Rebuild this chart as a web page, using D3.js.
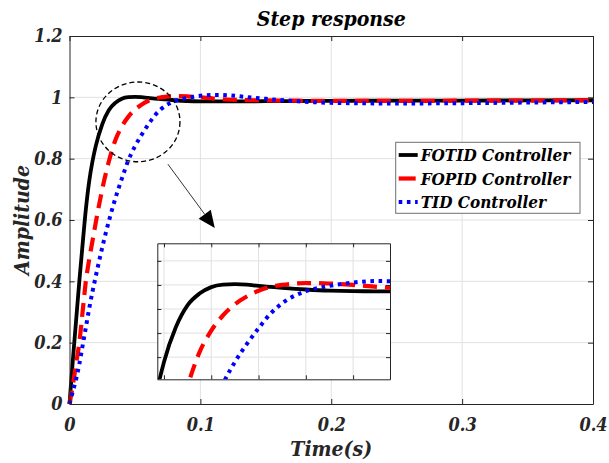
<!DOCTYPE html>
<html>
<head>
<meta charset="utf-8">
<script src="https://cdnjs.cloudflare.com/ajax/libs/d3/7.8.5/d3.min.js"></script>
<style>
  body { margin: 0; background: #fff; }
</style>
</head>
<body>
<div id="container"></div>
<script>
// time samples (s), shared by all three responses
var time = [0, 0.0025, 0.005, 0.0075, 0.01, 0.0125, 0.015, 0.0175, 0.02, 0.025, 0.03, 0.035, 0.04, 0.045,
            0.05, 0.055, 0.06, 0.065, 0.07, 0.08, 0.09, 0.1, 0.11, 0.12, 0.135, 0.15, 0.175, 0.2, 0.25, 0.3, 0.35, 0.4];

// step responses
var fotid = [0, 0.14, 0.27, 0.40, 0.52, 0.635, 0.725, 0.79, 0.84, 0.912, 0.958, 0.982, 0.9955, 1.0005,
             1.0015, 1.0005, 0.998, 0.996, 0.994, 0.9905, 0.988, 0.987, 0.9868, 0.9867, 0.987, 0.9875, 0.988, 0.9885, 0.989, 0.9895, 0.990, 0.9905];
var fopid = [0, 0.06, 0.13, 0.20, 0.30, 0.40, 0.47, 0.53, 0.59, 0.70, 0.79, 0.86, 0.905, 0.937,
             0.96, 0.976, 0.988, 0.996, 1.0, 1.004, 1.003, 1.0, 0.996, 0.993, 0.991, 0.990, 0.989, 0.9885, 0.9885, 0.989, 0.9895, 0.990];
var tid   = [0, 0.04, 0.08, 0.13, 0.19, 0.25, 0.31, 0.365, 0.415, 0.51, 0.595, 0.67, 0.735, 0.795,
             0.84, 0.877, 0.91, 0.94, 0.962, 0.987, 0.998, 1.005, 1.008, 1.007, 1.001, 0.995, 0.987, 0.982, 0.980, 0.981, 0.983, 0.985];

var seriesNames = ["FOTID Controller", "FOPID Controller", "TID Controller"];

// tick labels
var xTicks = [0, 0.1, 0.2, 0.3, 0.4];
var xTickLabels = ["0", "0.1", "0.2", "0.3", "0.4"];
var yTicks = [0, 0.2, 0.4, 0.6, 0.8, 1, 1.2];
var yTickLabels = ["0", "0.2", "0.4", "0.6", "0.8", "1", "1.2"];

// zoomed window shown in the inset
var insetXTicks = [0.02, 0.04, 0.06, 0.08, 0.1];
var insetYTicks = [0.85, 0.9, 0.95, 1.0, 1.05];

var FONT = "'DejaVu Serif Condensed', 'DejaVu Serif', serif";

class StepChart {

    constructor(opts)
    {
        this.element = opts.element;
        this.width = 609;
        this.height = 463;
        this.box = {left: 69.5, right: 593, top: 36, bottom: 404};

        this.styles = [
            {color: "#000000", width: 3.8, dash: null},
            {color: "#ff0000", width: 4.2, dash: "14,8"},
            {color: "#0000ff", width: 4, dash: "3.6,4.6"}
        ];
        this.data = [fotid, fopid, tid].map(function(vals){
            return vals.map(function(v, i){ return {t: time[i], v: v}; });
        });

        this.svg = d3.select(this.element).append("svg")
            .attr("width", this.width)
            .attr("height", this.height);

        this.drawMain();
        this.drawCircle();
        this.drawInset();
        this.drawLegend();

        // serif, bold italic everywhere (d3 axes set their own family)
        this.svg.selectAll("text").style("font-family", FONT)
            .style("font-weight", "bold").style("font-style", "italic");
    }

    drawMain(){
        var b = this.box, svg = this.svg;
        var x = this.x = d3.scaleLinear().domain([0, 0.4]).range([b.left, b.right]);
        var y = this.y = d3.scaleLinear().domain([0, 1.2]).range([b.bottom, b.top]);

        // grid
        var grid = svg.append("g");
        grid.selectAll(".gx").data(xTicks.slice(1, -1)).enter().append("line")
            .attr("x1", d => x(d)).attr("x2", d => x(d))
            .attr("y1", b.top).attr("y2", b.bottom)
            .attr("stroke", "#e1e1e1").attr("stroke-width", 1);
        grid.selectAll(".gy").data(yTicks.slice(1, -1)).enter().append("line")
            .attr("y1", d => y(d)).attr("y2", d => y(d))
            .attr("x1", b.left).attr("x2", b.right)
            .attr("stroke", "#e1e1e1").attr("stroke-width", 1);

        // curves
        var line = d3.line().x(d => x(d.t)).y(d => y(d.v)).curve(d3.curveMonotoneX);
        var self = this;
        this.data.forEach(function(d, i){
            var s = self.styles[i];
            svg.append("path").datum(d)
                .attr("d", line)
                .attr("fill", "none")
                .attr("stroke", s.color)
                .attr("stroke-width", s.width)
                .attr("stroke-dasharray", s.dash);
        });

        // axes with inward ticks on all four sides
        var fx = i => xTickLabels[xTicks.indexOf(i)];
        var fy = i => yTickLabels[yTicks.indexOf(i)];
        var bottom = svg.append("g").attr("transform", "translate(0," + b.bottom + ")")
            .call(d3.axisBottom(x).tickValues(xTicks).tickSizeInner(-5).tickSizeOuter(0).tickFormat(fx));
        bottom.selectAll("text").attr("y", 11).attr("dy", "0.9em");
        var top = svg.append("g").attr("transform", "translate(0," + b.top + ")")
            .call(d3.axisTop(x).tickValues(xTicks).tickSizeInner(-5).tickSizeOuter(0).tickFormat(""));
        var left = svg.append("g").attr("transform", "translate(" + b.left + ",0)")
            .call(d3.axisLeft(y).tickValues(yTicks).tickSizeInner(-5).tickSizeOuter(0).tickFormat(fy));
        left.selectAll("text").attr("x", -7);
        var right = svg.append("g").attr("transform", "translate(" + b.right + ",0)")
            .call(d3.axisRight(y).tickValues(yTicks).tickSizeInner(-5).tickSizeOuter(0).tickFormat(""));
        [bottom, top, left, right].forEach(function(g){
            g.select(".domain").attr("stroke", "#262626");
            g.selectAll(".tick line").attr("stroke", "#262626");
            g.selectAll("text").style("font-size", "18px").attr("fill", "#262626");
        });

        // title and labels
        svg.append("text").attr("x", (b.left + b.right) / 2).attr("y", 26)
            .attr("text-anchor", "middle").style("font-size", "21px").attr("fill", "#000").text("Step response");
        svg.append("text").attr("x", (b.left + b.right) / 2).attr("y", 456)
            .attr("text-anchor", "middle").style("font-size", "21px").attr("fill", "#262626").text("Time(s)");
        svg.append("text").attr("transform", "translate(29," + ((b.top + b.bottom) / 2) + ") rotate(-90)")
            .attr("text-anchor", "middle").style("font-size", "21px").attr("fill", "#262626").text("Amplitude");
    }

    drawCircle(){
        var x = this.x, y = this.y, svg = this.svg;
        // dashed ellipse around the overshoot region
        svg.append("ellipse")
            .attr("cx", x(0.0523)).attr("cy", y(0.92))
            .attr("rx", x(0.0321) - x(0)).attr("ry", y(0) - y(0.13))
            .attr("fill", "none").attr("stroke", "#000").attr("stroke-width", 1.3)
            .attr("stroke-dasharray", "5,3");

        // arrow pointing to the inset
        var x1 = x(0.0752), y1 = y(0.782), x2 = x(0.111), y2 = y(0.574);
        var ang = Math.atan2(y2 - y1, x2 - x1), len = 17, hw = 7.5;
        var bx = x2 - len * Math.cos(ang), by = y2 - len * Math.sin(ang);
        svg.append("line").attr("x1", x1).attr("y1", y1).attr("x2", bx).attr("y2", by)
            .attr("stroke", "#000").attr("stroke-width", 0.8);
        svg.append("path")
            .attr("d", "M" + x2 + "," + y2 +
                       "L" + (bx + hw * Math.sin(ang)) + "," + (by - hw * Math.cos(ang)) +
                       "L" + (bx - hw * Math.sin(ang)) + "," + (by + hw * Math.cos(ang)) + "Z")
            .attr("fill", "#000");
    }

    drawInset(){
        var svg = this.svg;
        var l = 157.3, r = 390, t = 243.3, bt = 379.3;
        var ix = d3.scaleLinear().domain([0.01717, 0.1156]).range([l, r]);
        var iy = d3.scaleLinear().domain([0.804, 1.0865]).range([bt, t]);
        var g = svg.append("g");

        g.append("rect").attr("x", l).attr("y", t).attr("width", r - l).attr("height", bt - t).attr("fill", "#fff");

        g.selectAll(".igx").data(insetXTicks).enter().append("line")
            .attr("x1", d => ix(d)).attr("x2", d => ix(d)).attr("y1", t).attr("y2", bt)
            .attr("stroke", "#e1e1e1");
        g.selectAll(".igy").data(insetYTicks).enter().append("line")
            .attr("y1", d => iy(d)).attr("y2", d => iy(d)).attr("x1", l).attr("x2", r)
            .attr("stroke", "#e1e1e1");

        svg.append("clipPath").attr("id", "insetclip").append("rect")
            .attr("x", l).attr("y", t).attr("width", r - l).attr("height", bt - t);

        var line = d3.line().x(d => ix(d.t)).y(d => iy(d.v)).curve(d3.curveMonotoneX);
        var self = this;
        var curves = g.append("g").attr("clip-path", "url(#insetclip)");
        this.data.forEach(function(d, i){
            var s = self.styles[i];
            curves.append("path").datum(d)
                .attr("d", line)
                .attr("fill", "none")
                .attr("stroke", s.color)
                .attr("stroke-width", s.width)
                .attr("stroke-dasharray", s.dash);
        });

        var axes = [
            [d3.axisBottom(ix).tickValues(insetXTicks), "translate(0," + bt + ")"],
            [d3.axisTop(ix).tickValues(insetXTicks), "translate(0," + t + ")"],
            [d3.axisLeft(iy).tickValues(insetYTicks), "translate(" + l + ",0)"],
            [d3.axisRight(iy).tickValues(insetYTicks), "translate(" + r + ",0)"]
        ];
        axes.forEach(function(a){
            var ag = g.append("g").attr("transform", a[1])
                .call(a[0].tickSizeInner(-4).tickSizeOuter(0).tickFormat(""));
            ag.select(".domain").attr("stroke", "#262626");
            ag.selectAll(".tick line").attr("stroke", "#262626");
        });
    }

    drawLegend(){
        var svg = this.svg, self = this;
        var lx = 395.7, ly = 142.3, lw = 184.3, lh = 71;
        var g = svg.append("g");
        g.append("rect").attr("x", lx).attr("y", ly).attr("width", lw).attr("height", lh)
            .attr("fill", "#fff").attr("stroke", "#707070").attr("stroke-width", 1);
        var rows = [155, 178.5, 202];
        seriesNames.forEach(function(name, i){
            var s = self.styles[i];
            g.append("line").attr("x1", lx + 3).attr("x2", lx + 22)
                .attr("y1", rows[i]).attr("y2", rows[i])
                .attr("stroke", s.color).attr("stroke-width", s.width)
                .attr("stroke-dasharray", i == 1 ? "17,8" : s.dash);
            g.append("text").attr("x", lx + 25).attr("y", rows[i] + 6)
                .style("font-size", "17px").attr("fill", "#000").text(name);
        });
    }
}

new StepChart({element: "#container"});
</script>
</body>
</html>
